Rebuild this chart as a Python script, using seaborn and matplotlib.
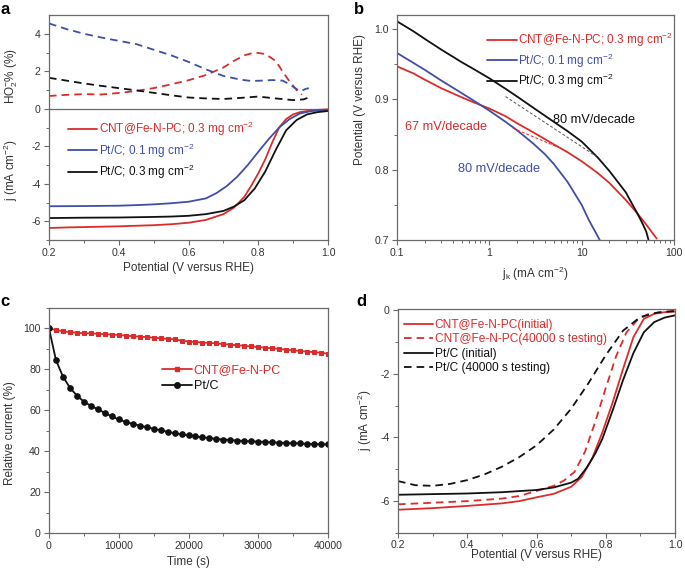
import numpy as np
import pandas as pd
import matplotlib
matplotlib.use("Agg")
import matplotlib.pyplot as plt
import seaborn as sns
from matplotlib.lines import Line2D
from matplotlib.ticker import LogLocator, NullFormatter, FixedLocator, FixedFormatter

# ---------------- data ----------------
# Panel a: HO2- % (dashed, upper part)
a_ho2_cnt_x = [0.2, 0.25, 0.3, 0.35, 0.4, 0.45, 0.5, 0.55, 0.6, 0.65, 0.7, 0.73, 0.76, 0.79, 0.82, 0.85, 0.87, 0.89, 0.91, 0.925]
a_ho2_cnt_y = [0.68, 0.74, 0.78, 0.76, 0.84, 0.95, 1.1, 1.3, 1.52, 1.8, 2.2, 2.55, 2.85, 3.0, 2.92, 2.55, 1.98, 1.45, 1.0, 0.75]
a_ho2_pt1_x = [0.2, 0.25, 0.3, 0.35, 0.4, 0.45, 0.5, 0.55, 0.6, 0.65, 0.7, 0.75, 0.78, 0.81, 0.84, 0.87, 0.89, 0.91, 0.92, 0.935, 0.945]
a_ho2_pt1_y = [4.55, 4.25, 4.0, 3.8, 3.62, 3.45, 3.15, 2.85, 2.5, 2.1, 1.75, 1.55, 1.48, 1.5, 1.53, 1.5, 1.3, 1.05, 0.93, 1.05, 1.1]
a_ho2_pt3_x = [0.2, 0.25, 0.3, 0.35, 0.4, 0.45, 0.5, 0.55, 0.6, 0.65, 0.7, 0.75, 0.8, 0.85, 0.9, 0.93, 0.95]
a_ho2_pt3_y = [1.65, 1.5, 1.35, 1.22, 1.1, 0.98, 0.85, 0.72, 0.6, 0.55, 0.52, 0.58, 0.65, 0.55, 0.46, 0.5, 0.64]
# Panel a: LSV j (solid, lower part)
a_j_cnt_x = [0.2, 0.25, 0.3, 0.35, 0.4, 0.45, 0.5, 0.55, 0.6, 0.65, 0.7, 0.73, 0.76, 0.78, 0.8, 0.82, 0.84, 0.86, 0.88, 0.9, 0.92, 0.95, 0.98, 1.0]
a_j_cnt_y = [-6.36, -6.33, -6.31, -6.29, -6.27, -6.24, -6.21, -6.16, -6.08, -5.93, -5.62, -5.28, -4.7, -4.1, -3.45, -2.7, -1.8, -1.0, -0.55, -0.3, -0.18, -0.09, -0.05, -0.03]
a_j_pt1_x = [0.2, 0.3, 0.4, 0.45, 0.5, 0.55, 0.6, 0.65, 0.68, 0.71, 0.74, 0.77, 0.8, 0.83, 0.86, 0.89, 0.92, 0.95, 0.98, 1.0]
a_j_pt1_y = [-5.2, -5.19, -5.17, -5.14, -5.1, -5.04, -4.96, -4.78, -4.5, -4.12, -3.62, -3.0, -2.3, -1.62, -1.0, -0.55, -0.25, -0.13, -0.08, -0.06]
a_j_pt3_x = [0.2, 0.3, 0.4, 0.5, 0.55, 0.6, 0.65, 0.7, 0.73, 0.76, 0.79, 0.82, 0.85, 0.88, 0.91, 0.94, 0.97, 1.0]
a_j_pt3_y = [-5.83, -5.81, -5.8, -5.77, -5.75, -5.71, -5.62, -5.45, -5.22, -4.88, -4.25, -3.35, -2.2, -1.15, -0.6, -0.3, -0.18, -0.12]

# Panel b: Tafel plots (jk, potential)
b_cnt_x = [0.1, 0.15, 0.2, 0.3, 0.5, 0.7, 1, 1.5, 2, 3, 5, 7, 10, 15, 20, 30, 40, 50, 60, 65]
b_cnt_y = [0.947, 0.937, 0.928, 0.916, 0.903, 0.895, 0.887, 0.876, 0.866, 0.853, 0.836, 0.825, 0.812, 0.795, 0.781, 0.757, 0.738, 0.722, 0.708, 0.702]
b_pt1_x = [0.1, 0.15, 0.2, 0.3, 0.5, 0.7, 1, 1.5, 2, 3, 4, 5, 7, 10, 12, 14, 15.7]
b_pt1_y = [0.966, 0.952, 0.942, 0.927, 0.909, 0.897, 0.884, 0.868, 0.856, 0.837, 0.822, 0.808, 0.783, 0.75, 0.728, 0.712, 0.700]
b_pt3_x = [0.1, 0.15, 0.2, 0.3, 0.5, 0.7, 1, 1.5, 2, 3, 5, 7, 10, 15, 20, 30, 40, 45, 50, 53]
b_pt3_y = [1.011, 0.997, 0.986, 0.971, 0.953, 0.942, 0.930, 0.915, 0.904, 0.888, 0.868, 0.855, 0.840, 0.817, 0.798, 0.768, 0.738, 0.725, 0.712, 0.700]
b_tan_pt3_x = [1.5, 14.4]
b_tan_pt3_y = [0.904, 0.819]
b_tan_cnt_x = [1.8, 5.3]
b_tan_cnt_y = [0.859, 0.833]
b_notes = ["80 mV/decade", "67 mV/decade", "80 mV/decade"]
b_note_x = [4.9, 0.122, 0.458]
b_note_y = [0.8707, 0.8607, 0.801]

# Panel c: chronoamperometry
c_time = [0, 1000, 2000, 3000, 4000, 5000, 6000, 7000, 8000, 9000, 10000,
          11000, 12000, 13000, 14000, 15000, 16000, 17000, 18000, 19000, 20000,
          21000, 22000, 23000, 24000, 25000, 26000, 27000, 28000, 29000, 30000,
          31000, 32000, 33000, 34000, 35000, 36000, 37000, 38000, 39000, 40000]
c_cnt = [100, 99.2, 98.6, 98.2, 97.9, 97.7, 97.6, 97.4, 97.2, 97.0, 96.8,
         96.5, 96.2, 96.0, 95.8, 95.5, 95.2, 94.9, 94.7, 94.0, 93.6,
         93.4, 93.1, 92.9, 92.7, 92.4, 92.1, 91.8, 91.5, 91.2, 90.9,
         90.6, 90.3, 90.0, 89.6, 89.3, 89.0, 88.7, 88.4, 88.1, 87.7]
c_pt = [100, 84.5, 76.5, 71.0, 67.2, 64.2, 62.2, 60.5, 58.7, 57.0, 55.5,
        54.3, 53.4, 52.5, 51.7, 51.0, 50.2, 49.5, 48.8, 48.2, 47.7,
        47.2, 46.8, 46.4, 46.0, 45.7, 45.5, 45.2, 45.0, 44.8, 44.7,
        44.5, 44.3, 44.2, 44.0, 43.9, 43.8, 43.6, 43.5, 43.4, 43.3]

# Panel d: LSV before/after
d_cnt0_x = [0.2, 0.3, 0.4, 0.5, 0.55, 0.6, 0.65, 0.7, 0.73, 0.76, 0.79, 0.82, 0.85, 0.88, 0.91, 0.94, 0.97, 1.0]
d_cnt0_y = [-6.27, -6.22, -6.15, -6.07, -6.0, -5.88, -5.77, -5.55, -5.25, -4.68, -3.85, -2.9, -1.85, -0.85, -0.28, -0.12, -0.07, -0.05]
d_cnt1_x = [0.2, 0.3, 0.4, 0.5, 0.55, 0.6, 0.65, 0.68, 0.71, 0.74, 0.77, 0.8, 0.83, 0.86, 0.89, 0.92, 0.96, 1.0]
d_cnt1_y = [-6.1, -6.05, -6.0, -5.92, -5.84, -5.68, -5.52, -5.35, -5.08, -4.45, -3.5, -2.45, -1.45, -0.7, -0.33, -0.14, -0.07, -0.04]
d_pt0_x = [0.2, 0.3, 0.4, 0.5, 0.6, 0.65, 0.7, 0.72, 0.745, 0.77, 0.79, 0.82, 0.85, 0.88, 0.91, 0.94, 0.97, 1.0]
d_pt0_y = [-5.8, -5.78, -5.76, -5.72, -5.65, -5.57, -5.42, -5.3, -4.95, -4.5, -4.05, -3.15, -2.2, -1.35, -0.7, -0.38, -0.24, -0.17]
d_pt1_x = [0.2, 0.25, 0.3, 0.35, 0.4, 0.45, 0.5, 0.55, 0.6, 0.65, 0.7, 0.75, 0.8, 0.85, 0.9, 0.95, 1.0]
d_pt1_y = [-5.37, -5.5, -5.52, -5.46, -5.34, -5.16, -4.92, -4.62, -4.25, -3.75, -3.1, -2.3, -1.42, -0.65, -0.22, -0.08, -0.03]

# tick positions / labels
pot_ticks = [0.2, 0.4, 0.6, 0.8, 1.0]
pot_labels = ["0.2", "0.4", "0.6", "0.8", "1.0"]
pot_minor = [0.3, 0.5, 0.7, 0.9]
a_yticks = [-6, -4, -2, 0, 2, 4]
a_ylabels = ["-6", "-4", "-2", "0", "2", "4"]
b_xticks = [0.1, 1, 10, 100]
b_xlabels = ["0.1", "1", "10", "100"]
b_yticks = [0.7, 0.8, 0.9, 1.0]
b_ylabels = ["0.7", "0.8", "0.9", "1.0"]
c_xticks = [0, 10000, 20000, 30000, 40000]
c_xlabels = ["0", "10000", "20000", "30000", "40000"]
c_yticks = [0, 20, 40, 60, 80, 100]
c_ylabels = ["0", "20", "40", "60", "80", "100"]
d_yticks = [-6, -4, -2, 0]
d_ylabels = ["-6", "-4", "-2", "0"]

# ---------------- style ----------------
sns.set_theme(style="ticks")
plt.rcParams["font.family"] = ["Liberation Sans", "DejaVu Sans"]
plt.rcParams["mathtext.fontset"] = "custom"
plt.rcParams["mathtext.rm"] = "Liberation Sans"
plt.rcParams["mathtext.it"] = "Liberation Sans:italic"
plt.rcParams["mathtext.bf"] = "Liberation Sans:bold"
plt.rcParams["axes.unicode_minus"] = False

RED = "#dc2b2b"
BLUE = "#3f4fa6"
BLACK = "#111111"
SPINE = "#6a6a6a"
TXT = "#333333"
LW = 1.3
DASH = (4.2, 2.8)
TICK_FS = 7.6
LAB_FS = 8.5

fig = plt.figure(figsize=(6.85, 5.71), dpi=100)
W, H = 685.0, 571.0


def axes_px(l, t, r, b):
    return fig.add_axes([l / W, 1 - b / H, (r - l) / W, (b - t) / H])


def style_ax(ax):
    for s in ax.spines.values():
        s.set_color(SPINE)
        s.set_linewidth(0.9)
    ax.tick_params(which="major", direction="out", length=3.5, width=0.8, color=SPINE,
                   labelsize=TICK_FS, labelcolor=TXT, pad=2.5)
    ax.tick_params(which="minor", direction="out", length=2, width=0.7, color=SPINE)


def set_ticks(ax, axis, ticks, labels, minor):
    a = ax.xaxis if axis == "x" else ax.yaxis
    a.set_major_locator(FixedLocator(ticks))
    a.set_major_formatter(FixedFormatter(labels))
    if minor is not None:
        a.set_minor_locator(FixedLocator(minor))
        a.set_minor_formatter(NullFormatter())


def line(ax, x, y, color, dashed=False, lw=LW, **kw):
    sns.lineplot(x=x, y=y, ax=ax, color=color, lw=lw, **kw)
    ln = ax.lines[-1]
    if dashed:
        ln.set_dashes(DASH if dashed is True else dashed)
    return ln


# ---------------- panel a ----------------
axa = axes_px(49, 15, 328, 240)
style_ax(axa)
axa.axhline(0, color=SPINE, lw=0.9)
line(axa, a_ho2_cnt_x, a_ho2_cnt_y, RED, dashed=True)
line(axa, a_ho2_pt1_x, a_ho2_pt1_y, BLUE, dashed=True)
line(axa, a_ho2_pt3_x, a_ho2_pt3_y, BLACK, dashed=True)
line(axa, a_j_cnt_x, a_j_cnt_y, RED)
line(axa, a_j_pt1_x, a_j_pt1_y, BLUE)
line(axa, a_j_pt3_x, a_j_pt3_y, BLACK)
axa.set_xlim(0.2, 1.0)
axa.set_ylim(-7, 5)
set_ticks(axa, "x", pot_ticks, pot_labels, pot_minor)
set_ticks(axa, "y", a_yticks, a_ylabels, [-7, -5, -3, -1, 1, 3])
axa.set_xlabel("Potential (V versus RHE)", fontsize=LAB_FS, color=TXT)
axa.xaxis.set_label_coords(0.5, -0.1)
axa.set_ylabel("")
axa.text(-0.135, 0.73, "HO$_2^{-}$% (%)", transform=axa.transAxes, rotation=90,
         ha="center", va="center", fontsize=LAB_FS, color=TXT)
axa.text(-0.135, 0.31, "j (mA cm$^{-2}$)", transform=axa.transAxes, rotation=90,
         ha="center", va="center", fontsize=LAB_FS, color=TXT)
h = [Line2D([], [], color=c, lw=LW) for c in (RED, BLUE, BLACK)]
leg = axa.legend(h, ["CNT@Fe-N-PC; 0.3 mg cm$^{-2}$", "Pt/C; 0.1 mg cm$^{-2}$", "Pt/C; 0.3 mg cm$^{-2}$"],
                 loc="upper left", bbox_to_anchor=(0.068, 0.535), frameon=False, borderpad=0,
                 borderaxespad=0, handlelength=2.5, handletextpad=0.15, labelspacing=0.3, fontsize=8.5)
for t, c in zip(leg.get_texts(), (RED, BLUE, BLACK)):
    t.set_color(c)

# ---------------- panel b ----------------
axb = axes_px(397, 15, 674, 240)
style_ax(axb)
line(axb, b_cnt_x, b_cnt_y, RED)
line(axb, b_pt1_x, b_pt1_y, BLUE)
line(axb, b_pt3_x, b_pt3_y, BLACK)
line(axb, b_tan_pt3_x, b_tan_pt3_y, "#555555", dashed=(3, 2), lw=0.7)
line(axb, b_tan_cnt_x, b_tan_cnt_y, RED, dashed=(3, 2), lw=0.7)
axb.set_xscale("log")
axb.set_xlim(0.1, 100)
axb.set_ylim(0.7, 1.02)
set_ticks(axb, "x", b_xticks, b_xlabels, None)
axb.xaxis.set_minor_locator(LogLocator(base=10, subs=np.arange(2, 10)))
axb.xaxis.set_minor_formatter(NullFormatter())
set_ticks(axb, "y", b_yticks, b_ylabels, [0.75, 0.85, 0.95])
axb.set_xlabel("j$_\\mathrm{k}$ (mA cm$^{-2}$)", fontsize=LAB_FS, color=TXT)
axb.xaxis.set_label_coords(0.5, -0.112)
axb.set_ylabel("Potential (V versus RHE)", fontsize=LAB_FS, color=TXT)
axb.yaxis.set_label_coords(-0.112, 0.625)
for s, xx, yy, c in zip(b_notes, b_note_x, b_note_y, (BLACK, RED, BLUE)):
    axb.text(xx, yy, s, color=c, fontsize=9.2, ha="left", va="center")
leg = axb.legend(h, ["CNT@Fe-N-PC; 0.3 mg cm$^{-2}$", "Pt/C; 0.1 mg cm$^{-2}$", "Pt/C; 0.3 mg cm$^{-2}$"],
                 loc="upper left", bbox_to_anchor=(0.325, 0.93), frameon=False, borderpad=0,
                 borderaxespad=0, handlelength=2.5, handletextpad=0.15, labelspacing=0.2, fontsize=8.5)
for t, c in zip(leg.get_texts(), (RED, BLUE, BLACK)):
    t.set_color(c)

# ---------------- panel c ----------------
axc = axes_px(49, 308, 328, 533)
style_ax(axc)
sns.lineplot(x=c_time, y=c_cnt, ax=axc, color=RED, lw=LW, marker="s", markersize=3.3,
             markeredgecolor=RED, markerfacecolor=RED)
sns.lineplot(x=c_time, y=c_pt, ax=axc, color=BLACK, lw=LW, marker="o", markersize=4,
             markeredgecolor=BLACK, markerfacecolor=BLACK)
axc.set_xlim(0, 40000)
axc.set_ylim(0, 110)
set_ticks(axc, "x", c_xticks, c_xlabels, [5000, 15000, 25000, 35000])
set_ticks(axc, "y", c_yticks, c_ylabels, [10, 30, 50, 70, 90, 110])
axc.set_xlabel("Time (s)", fontsize=LAB_FS, color=TXT)
axc.xaxis.set_label_coords(0.5, -0.1)
axc.set_ylabel("Relative current (%)", fontsize=LAB_FS, color=TXT)
axc.yaxis.set_label_coords(-0.118, 0.445)
hc = [Line2D([], [], color=RED, lw=LW, marker="s", ms=3.3),
      Line2D([], [], color=BLACK, lw=LW, marker="o", ms=4)]
leg = axc.legend(hc, ["CNT@Fe-N-PC", "Pt/C"], loc="upper left", bbox_to_anchor=(0.405, 0.75),
                 frameon=False, borderpad=0, borderaxespad=0, handlelength=2.4,
                 handletextpad=0.15, labelspacing=0.3, fontsize=9)
for t, c in zip(leg.get_texts(), (RED, BLACK)):
    t.set_color(c)

# ---------------- panel d ----------------
axd = axes_px(398, 309, 675, 533)
style_ax(axd)
line(axd, d_cnt0_x, d_cnt0_y, RED)
line(axd, d_cnt1_x, d_cnt1_y, RED, dashed=True)
line(axd, d_pt0_x, d_pt0_y, BLACK)
line(axd, d_pt1_x, d_pt1_y, BLACK, dashed=True)
axd.set_xlim(0.2, 1.0)
axd.set_ylim(-7, 0.03)
set_ticks(axd, "x", pot_ticks, pot_labels, pot_minor)
set_ticks(axd, "y", d_yticks, d_ylabels, [-7, -5, -3, -1])
axd.tick_params(axis="x", which="major", pad=1.5)
axd.set_xlabel("Potential (V versus RHE)", fontsize=LAB_FS, color=TXT)
axd.xaxis.set_label_coords(0.5, -0.073)
axd.set_ylabel("j (mA cm$^{-2}$)", fontsize=LAB_FS, color=TXT)
axd.yaxis.set_label_coords(-0.087, 0.505)
hd = [Line2D([], [], color=RED, lw=LW), Line2D([], [], color=RED, lw=LW, dashes=DASH),
      Line2D([], [], color=BLACK, lw=LW), Line2D([], [], color=BLACK, lw=LW, dashes=DASH)]
leg = axd.legend(hd, ["CNT@Fe-N-PC(initial)", "CNT@Fe-N-PC(40000 s testing)", "Pt/C (initial)",
                      "Pt/C (40000 s testing)"],
                 loc="upper left", bbox_to_anchor=(0.022, 0.955), frameon=False, borderpad=0,
                 borderaxespad=0, handlelength=2.4, handletextpad=0.15, labelspacing=0.2, fontsize=8.6)
for t, c in zip(leg.get_texts(), (RED, RED, BLACK, BLACK)):
    t.set_color(c)

# panel letters
for s, x, y in (("a", 5, 9), ("b", 359, 9), ("c", 5, 302), ("d", 361, 302)):
    fig.text(x / W, 1 - y / H, s, fontsize=12, fontweight="bold", ha="center", va="center", color="black")

fig.savefig("out.png", dpi=100)
